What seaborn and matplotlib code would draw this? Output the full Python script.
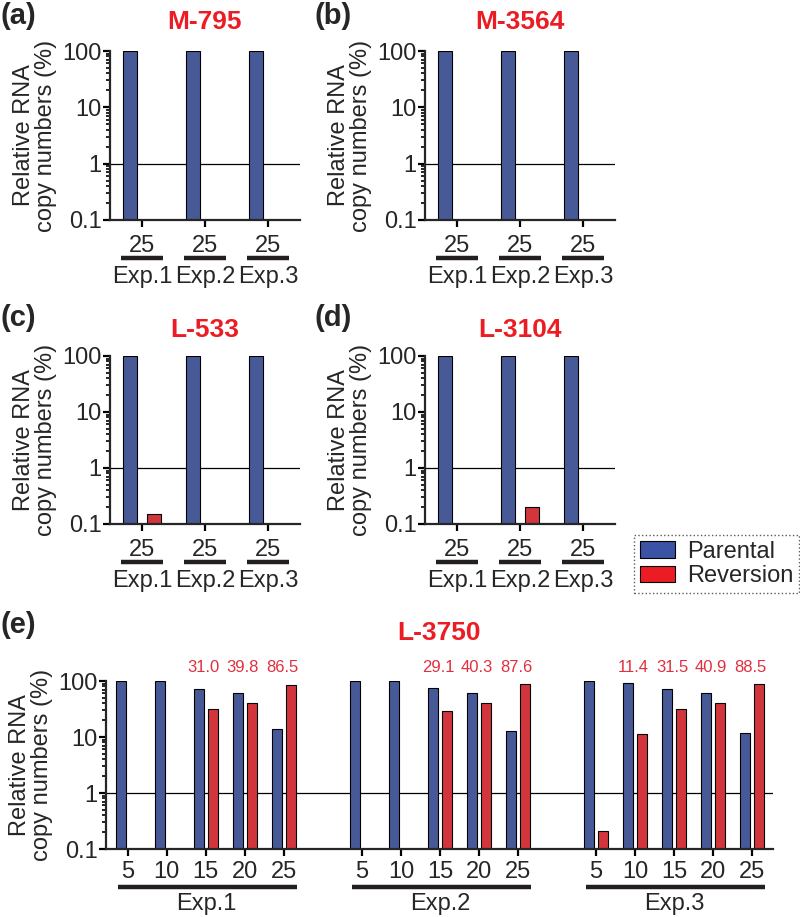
import numpy as np
import pandas as pd
import matplotlib
matplotlib.use("Agg")
import matplotlib.pyplot as plt
import matplotlib.ticker as mticker
import matplotlib.transforms as mtransforms
from matplotlib.patches import Patch
import seaborn as sns

# ---------------- data ----------------
series = ["Parental", "Reversion"]
experiments = ["Exp.1", "Exp.2", "Exp.3"]
small_day_label = "25"

m795_parental = [100, 100, 100]
m795_reversion = [np.nan, np.nan, np.nan]
m3564_parental = [100, 100, 100]
m3564_reversion = [np.nan, np.nan, np.nan]
l533_parental = [100, 100, 100]
l533_reversion = [0.15, np.nan, np.nan]
l3104_parental = [100, 100, 100]
l3104_reversion = [np.nan, 0.20, np.nan]

days = [5, 10, 15, 20, 25]
l3750_exp1_parental = [100, 100, 72, 62, 13.9]
l3750_exp1_reversion = [np.nan, np.nan, 31.0, 39.8, 86.5]
l3750_exp2_parental = [100, 100, 75, 62, 12.8]
l3750_exp2_reversion = [np.nan, np.nan, 29.1, 40.3, 87.6]
l3750_exp3_parental = [100, 92, 72, 61, 11.8]
l3750_exp3_reversion = [0.21, 11.4, 31.5, 40.9, 88.5]

y_ticks = [0.1, 1, 10, 100]
y_tick_labels = ["0.1", "1", "10", "100"]

# ---------------- style ----------------
BLUE = "#3A53A4"
RED = "#EC1C24"
TXT_RED = "#E0303F"
DARK = "#231F20"
palette = {"Parental": BLUE, "Reversion": RED}

sns.set_style("ticks")
plt.rcParams["font.family"] = ["Liberation Sans", "DejaVu Sans"]
plt.rcParams["axes.linewidth"] = 1.6

W, H = 800, 917
fig = plt.figure(figsize=(W / 100, H / 100), dpi=100)

FS = 17


def fig_rect(left, right, top, bottom):
    return [left / W, 1 - bottom / H, (right - left) / W, (bottom - top) / H]


def style_log_axis(ax):
    ax.set_yscale("log")
    ax.set_ylim(0.1, 100)
    ax.yaxis.set_major_locator(mticker.FixedLocator(y_ticks))
    ax.yaxis.set_major_formatter(mticker.FixedFormatter(y_tick_labels))
    ax.yaxis.set_minor_locator(mticker.LogLocator(base=10, subs=np.arange(2, 10)))
    ax.yaxis.set_minor_formatter(mticker.NullFormatter())
    ax.tick_params(axis="y", which="major", length=5, width=1.6, labelsize=FS, pad=1, color="black")
    ax.tick_params(axis="y", which="minor", length=3, width=1.2, color="black")
    ax.tick_params(axis="x", which="major", length=5, width=1.6, labelsize=FS, pad=6, color="black")
    ax.set_ylabel("Relative RNA\ncopy numbers (%)", fontsize=FS, linespacing=1.0, labelpad=4)
    ax.set_xlabel("")
    ax.axhline(1, color="black", lw=0.9, zorder=0)
    sns.despine(ax=ax)


def small_panel(rect, parental, reversion, title, letter, letter_xy, title_y):
    ax = fig.add_axes(rect)
    df = pd.DataFrame({
        "exp": experiments * 2,
        "series": ["Parental"] * 3 + ["Reversion"] * 3,
        "value": list(parental) + list(reversion),
    })
    df = df.dropna()
    ax.set_yscale("log")
    sns.barplot(data=df, x="exp", y="value", hue="series", order=experiments,
                hue_order=series, palette=palette, width=0.76, gap=0.4, dodge=True,
                edgecolor="black", linewidth=0.8, legend=False, ax=ax, zorder=2)
    style_log_axis(ax)
    ax.set_xlim(-0.51, 2.51)
    ax.set_xticks(range(len(experiments)))
    ax.set_xticklabels([small_day_label] * len(experiments))
    bottom_px = (1 - rect[1]) * H
    tr = mtransforms.blended_transform_factory(ax.transData, fig.transFigure)
    for i, e in enumerate(experiments):
        ax.plot([i - 0.33, i + 0.33], [1 - (bottom_px + 38) / H] * 2, transform=tr,
                clip_on=False, color=DARK, lw=3.2, solid_capstyle="butt")
        ax.text(i, 1 - (bottom_px + 57) / H, e, transform=tr, ha="center", va="center",
                fontsize=FS)
    fig.text((rect[0] + rect[2] / 2), 1 - title_y / H, title, color=RED, fontsize=19,
             fontweight="bold", ha="center", va="center")
    fig.text(letter_xy[0] / W, 1 - letter_xy[1] / H, letter, fontsize=21,
             fontweight="bold", ha="left", va="center")
    return ax


small_panel(fig_rect(110, 300, 51, 220), m795_parental, m795_reversion, "M-795", "(a)", (0, 16), 22)
small_panel(fig_rect(425, 615, 51, 220), m3564_parental, m3564_reversion, "M-3564", "(b)", (314, 16), 22)
small_panel(fig_rect(110, 300, 356, 524), l533_parental, l533_reversion, "L-533", "(c)", (0, 318), 330)
small_panel(fig_rect(425, 615, 356, 524), l3104_parental, l3104_reversion, "L-3104", "(d)", (314, 318), 330)

# ---------------- panel (e) ----------------
rect_e = fig_rect(106, 773, 681, 849)
ax = fig.add_axes(rect_e)
exp_series = [
    (l3750_exp1_parental, l3750_exp1_reversion),
    (l3750_exp2_parental, l3750_exp2_reversion),
    (l3750_exp3_parental, l3750_exp3_reversion),
]
order = []
rows = []
group_positions = []
for gi, (exp, (par, rev)) in enumerate(zip(experiments, exp_series)):
    if gi > 0:
        order.append(f"gap{gi}")
    pos = []
    for d, p, r in zip(days, par, rev):
        cat = f"{exp}-{d}"
        order.append(cat)
        pos.append(len(order) - 1)
        rows.append((cat, "Parental", p))
        rows.append((cat, "Reversion", r))
    group_positions.append(pos)
df_e = pd.DataFrame(rows, columns=["cat", "series", "value"]).dropna()

ax.set_yscale("log")
sns.barplot(data=df_e, x="cat", y="value", hue="series", order=order, hue_order=series,
            palette=palette, width=0.72, gap=0.25, dodge=True, edgecolor="black", linewidth=0.8,
            legend=False, ax=ax, zorder=2)
style_log_axis(ax)
ax.set_xlim(-0.56, len(order) - 1 + 0.54)
tick_pos = [p for g in group_positions for p in g]
ax.set_xticks(tick_pos)
ax.set_xticklabels([str(d) for _ in experiments for d in days])
ax.tick_params(axis="x", pad=4)

bottom_px = 849
tr = mtransforms.blended_transform_factory(ax.transData, fig.transFigure)
for exp, pos, (par, rev) in zip(experiments, group_positions, exp_series):
    ax.plot([pos[0] - 0.25, pos[-1] + 0.33], [1 - (bottom_px + 38) / H] * 2, transform=tr,
            clip_on=False, color=DARK, lw=3.2, solid_capstyle="butt")
    ax.text(np.mean(pos), 1 - (bottom_px + 55) / H, exp, transform=tr, ha="center",
            va="center", fontsize=FS)
    for p, r in zip(pos, rev):
        if not np.isnan(r) and r >= 1:
            ax.text(p - 0.05, 1 - 667 / H, f"{r:.1f}", transform=tr, ha="center",
                    va="center", fontsize=12, color=TXT_RED)

fig.text((rect_e[0] + rect_e[2] / 2), 1 - 633 / H, "L-3750", color=RED, fontsize=19,
         fontweight="bold", ha="center", va="center")
fig.text(0, 1 - 625 / H, "(e)", fontsize=21, fontweight="bold", ha="left", va="center")

# ---------------- legend ----------------
handles = [Patch(facecolor=palette[s], edgecolor="black", linewidth=0.8) for s in series]
leg = fig.legend(handles, series, loc="lower right", bbox_to_anchor=(799 / W, 1 - 593 / H),
                 frameon=True, fancybox=False, fontsize=FS, handlelength=1.5,
                 handleheight=0.7, handletextpad=0.5, labelspacing=0.1,
                 borderpad=0.25, borderaxespad=0)
frame = leg.get_frame()
frame.set_linestyle(":")
frame.set_edgecolor("#333333")
frame.set_linewidth(1.0)

fig.savefig("out.png", dpi=100)
